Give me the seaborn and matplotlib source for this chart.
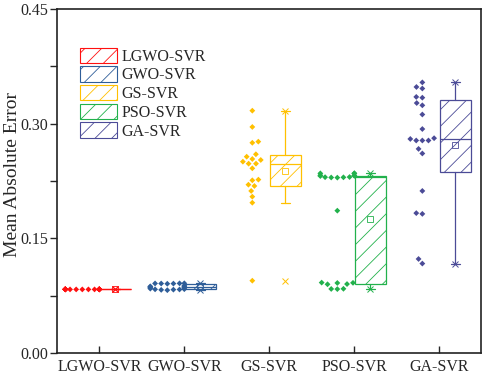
import numpy as np
import pandas as pd
import matplotlib
matplotlib.use("Agg")
import matplotlib.pyplot as plt
import seaborn as sns
from matplotlib.patches import Patch
from matplotlib.ticker import MultipleLocator, FormatStrFormatter
from matplotlib import cbook

models = ["LGWO-SVR", "GWO-SVR", "GS-SVR", "PSO-SVR", "GA-SVR"]
colors = ["#FF1010", "#2F5E99", "#FFC000", "#22B14C", "#4B4B97"]

lgwo = [0.0832, 0.0833, 0.0834, 0.0833, 0.0832, 0.0833, 0.0834, 0.0833, 0.0832, 0.0833,
        0.0834, 0.0833, 0.0832, 0.0833, 0.0834, 0.0833, 0.0832, 0.0833, 0.0834, 0.0833]
gwo = [0.0912, 0.0910, 0.0908, 0.0911, 0.0906, 0.0909, 0.0880, 0.0872, 0.0868, 0.0864,
       0.0860, 0.0856, 0.0850, 0.0842, 0.0835, 0.0833, 0.0831, 0.0829, 0.0826, 0.0822]
gs = [0.317, 0.2957, 0.275, 0.2765, 0.2568, 0.260, 0.2538, 0.2477, 0.2525, 0.2477,
      0.2503, 0.2416, 0.2259, 0.2268, 0.2185, 0.2202, 0.212, 0.2045, 0.1966, 0.0946]
pso = [0.2352, 0.2348, 0.2300, 0.2296, 0.2302, 0.2298, 0.2294, 0.2350, 0.2322, 0.2318,
       0.2325, 0.2315, 0.1862, 0.0921, 0.0918, 0.0916, 0.0838, 0.0836, 0.0840, 0.0902, 0.0899]
ga = [0.354, 0.348, 0.346, 0.334, 0.335, 0.327, 0.324, 0.312, 0.293, 0.278, 0.281,
      0.280, 0.278, 0.278, 0.267, 0.261, 0.212, 0.183, 0.182, 0.123, 0.117]

series = [lgwo, gwo, gs, pso, ga]
yticks = [0.00, 0.15, 0.30, 0.45]

sns.set_style("ticks")
plt.rcParams["font.family"] = ["Liberation Serif", "DejaVu Serif"]
plt.rcParams["hatch.linewidth"] = 0.6

df = pd.DataFrame({
    "model": np.repeat(models, [len(s) for s in series]),
    "mae": np.concatenate(series),
})

fig = plt.figure(figsize=(4.84, 3.75), dpi=100)
ax = fig.add_axes([57 / 484, 1 - 353 / 375, 424 / 484, 344 / 375])

# interleave empty slots so each swarm is narrow (half-width category units)
order = []
for i, m in enumerate(models):
    order.append(m)
    if i < len(models) - 1:
        order.append(" " * (i + 1))

diamond = [(0, 1), (1, 0), (0, -1), (-1, 0)]
sns.swarmplot(data=df, x="model", y="mae", hue="model", order=order,
              hue_order=models, palette=dict(zip(models, colors)),
              marker=diamond, size=4.2, linewidth=0, legend=False,
              warn_thresh=1.0, ax=ax)

# boxes (Origin style quartiles)
for i, (m, vals, c) in enumerate(zip(models, series, colors)):
    v = np.asarray(vals)
    st = cbook.boxplot_stats(v, whis=1.5)[0]
    q1, med, q3 = np.percentile(v, [25, 50, 75], method="weibull")
    iqr = q3 - q1
    st["q1"], st["med"], st["q3"] = q1, med, q3
    st["whislo"] = v[v >= q1 - 1.5 * iqr].min()
    st["whishi"] = v[v <= q3 + 1.5 * iqr].max()
    st["mean"] = v.mean()
    st["fliers"] = np.array([v.min(), v.max()])
    lw = 0.9
    ax.bxp([st], positions=[2 * i + 0.78], widths=0.75, capwidths=0.22,
           patch_artist=True, showmeans=True, manage_ticks=False,
           boxprops=dict(facecolor="none", edgecolor=c, linewidth=lw, hatch="//"),
           whiskerprops=dict(color=c, linewidth=lw),
           capprops=dict(color=c, linewidth=lw),
           medianprops=dict(color=c, linewidth=lw),
           meanprops=dict(marker="s", markerfacecolor="none", markeredgecolor=c,
                          markersize=4, markeredgewidth=0.6),
           flierprops=dict(marker="x", markeredgecolor=c, markersize=4,
                           markeredgewidth=0.7))

ax.set_xlim(-0.595, 9.38)
ax.set_xticks([2 * i + 0.4 for i in range(len(models))])
ax.set_xticklabels(models)
ax.set_ylim(0, 0.45)
ax.set_yticks(yticks)
ax.yaxis.set_major_formatter(FormatStrFormatter("%.2f"))
ax.yaxis.set_minor_locator(MultipleLocator(0.075))
ax.set_xlabel("")
ax.set_ylabel("Mean Absolute Error", fontsize=14)
ax.yaxis.set_label_coords(-0.086, 0.52)

ax.tick_params(axis="x", direction="in", length=5, width=1.0, labelsize=11.5, pad=4)
ax.tick_params(axis="y", which="major", direction="out", length=5, width=1.0,
               labelsize=11.5, pad=1.5)
ax.tick_params(axis="y", which="minor", direction="out", length=5, width=1.0)
for s in ax.spines.values():
    s.set_visible(True)
    s.set_linewidth(1.2)
    s.set_color("#222222")

handles = [Patch(facecolor="none", edgecolor=c, hatch="//", linewidth=0.8, label=m)
           for m, c in zip(models, colors)]
ax.legend(handles=handles, loc="upper left", bbox_to_anchor=(0.054, 0.8875),
          frameon=False, fontsize=11.5, borderpad=0, borderaxespad=0,
          handlelength=2.3, handleheight=1.1, labelspacing=0.1, handletextpad=0.3)

fig.savefig("out.png", dpi=100)
